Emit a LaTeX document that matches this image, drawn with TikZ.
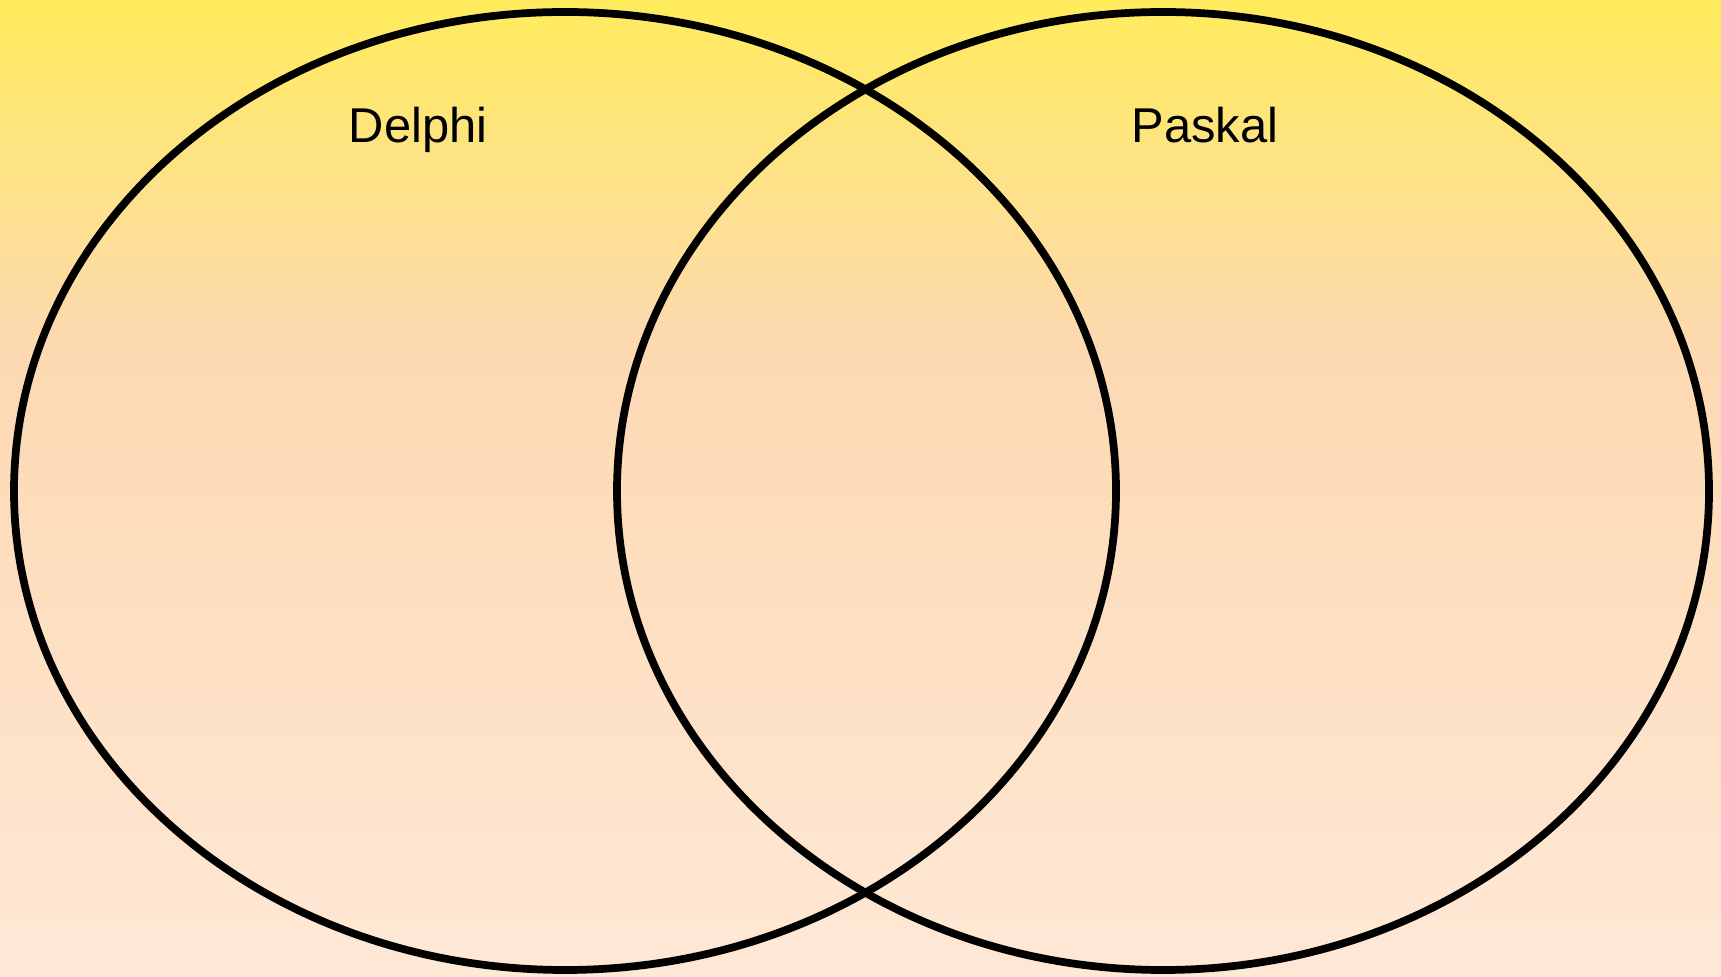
\documentclass[tikz,border=0pt]{standalone}
\usepackage{fontspec}
\setmainfont{Liberation Sans}
\usetikzlibrary{shapes.geometric,positioning}
\definecolor{topyellow}{RGB}{255,235,92}
\definecolor{midpeach}{RGB}{253,217,178}
\definecolor{lowpeach}{RGB}{254,232,214}

\begin{document}
\begin{tikzpicture}[
    set/.style={ellipse,draw=black,line width=2.2pt,inner sep=0pt},
    lbl/.style={font=\fontsize{13.9}{16}\selectfont,inner sep=0pt,anchor=base}]
    \useasboundingbox (0,0) rectangle (17.21,9.76);
    % background
    \shade[top color=topyellow,bottom color=midpeach] (0,6.26) rectangle (17.21,9.76);
    \shade[top color=midpeach,bottom color=lowpeach] (0,0) rectangle (17.21,6.26);
    % sets
    \node[set,minimum width=11.02cm,minimum height=9.58cm] (delphi) at (5.65,4.85) {};
    \node[set,minimum width=10.92cm,minimum height=9.58cm] (paskal) at (11.63,4.85) {};
    \node[lbl] (ldelphi) at (4.18,8.33) {Delphi};
    \node[lbl] (lpaskal) at (12.05,8.33) {Paskal};
\end{tikzpicture}
\end{document}
